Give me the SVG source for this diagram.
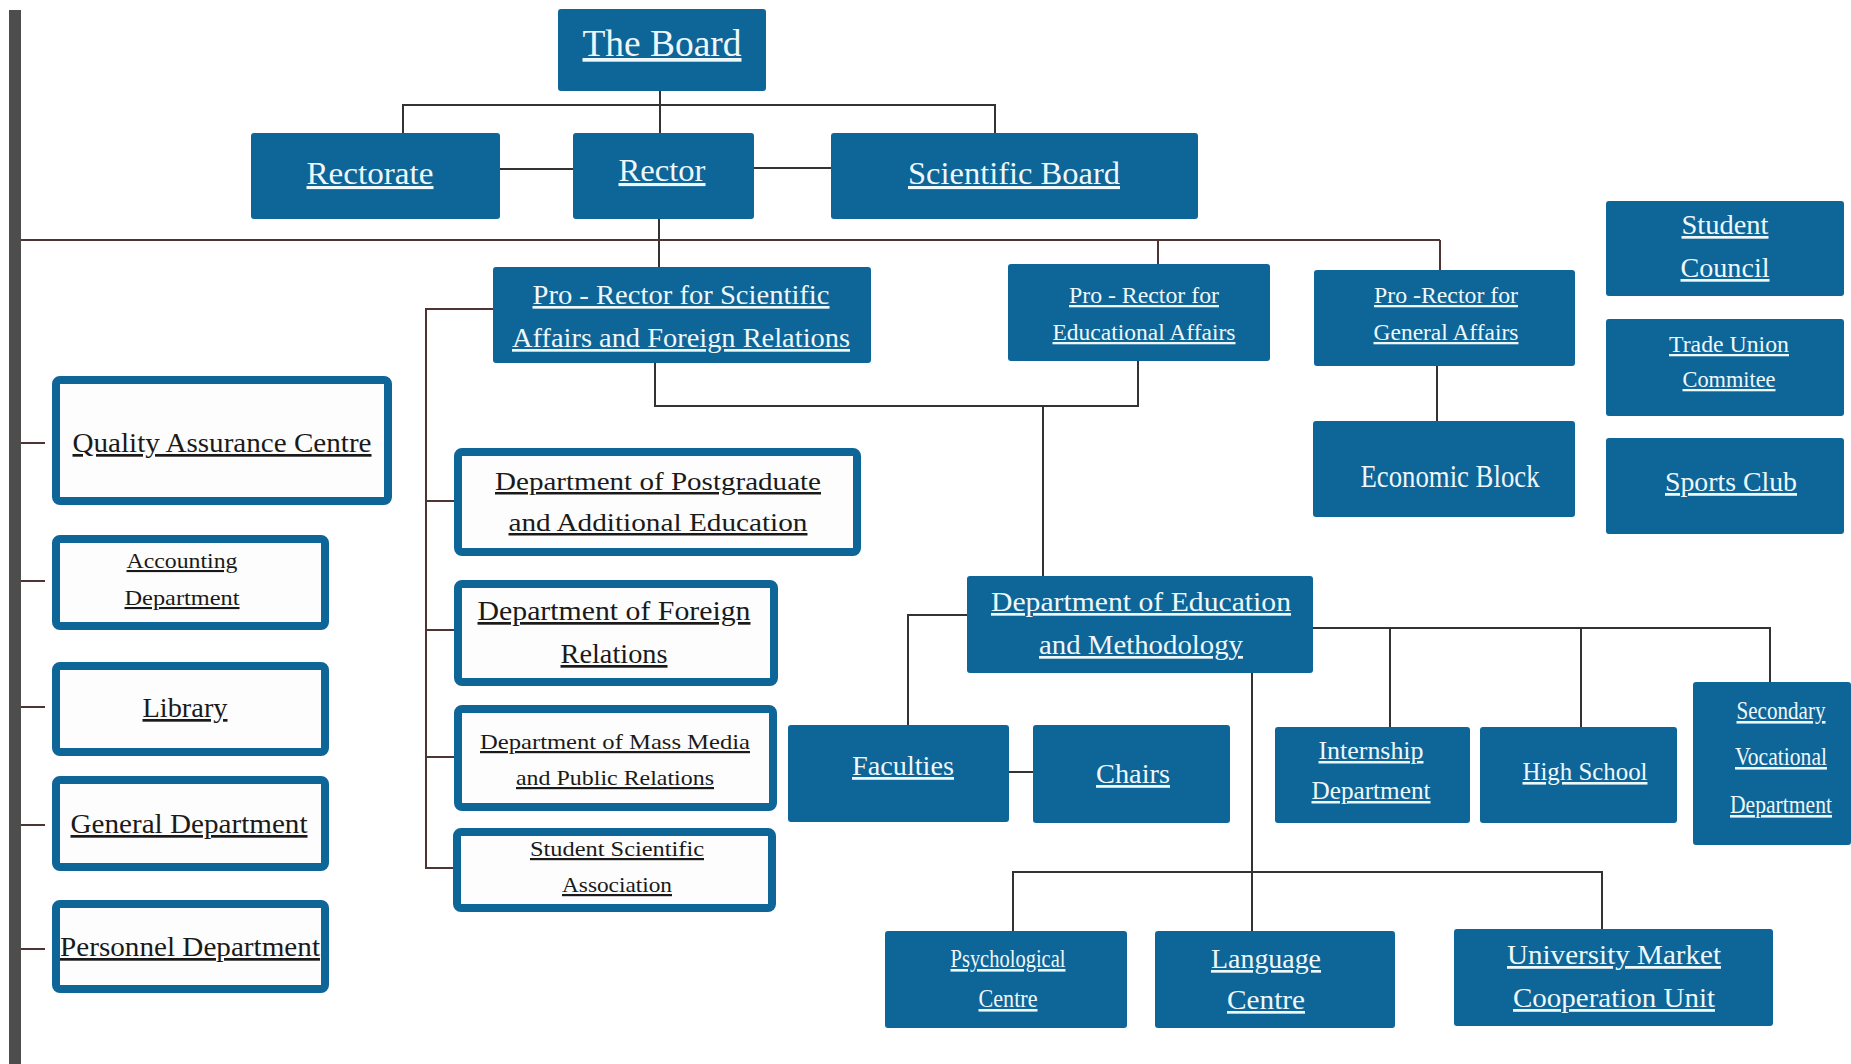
<svg xmlns="http://www.w3.org/2000/svg" width="1851" height="1064" viewBox="0 0 1851 1064">
<style>
.b{fill:#0e6598;}
.w{fill:#fdfdfd;stroke:#0e6598;stroke-width:8;}
.t{font-family:"Liberation Serif","DejaVu Serif",serif;text-anchor:middle;fill:#eef8fb;text-decoration:underline;}
.d{font-family:"Liberation Serif","DejaVu Serif",serif;text-anchor:middle;fill:#1a1a1a;text-decoration:underline;}
.c{fill:none;stroke:#333333;stroke-width:2;}
.cr{fill:none;stroke:#4e3434;stroke-width:2;}
</style>
<rect x="9" y="10" width="12" height="1054" fill="#4d4d4d"/>
<g id="connectors">
<path class="c" d="M660 91V133M403 133V105H995V133M500 169H573M754 168H831M659 219V267"/>
<path class="cr" d="M21 240H1440M1158 240V264M1440 240V270"/>
<path class="cr" d="M493 309H426V868H453M426 501H454M426 630H454M426 757H454"/>
<path class="cr" d="M21 443H45M21 581H45M21 707H45M21 825H45M21 949H45"/>
<path class="c" d="M655 363V406H1138V361M1043 406V576M1437 366V421"/>
<path class="c" d="M967 615H908V725M1009 772H1033M1313 628H1770V683M1390 628V727M1581 628V727"/>
<path class="c" d="M1252 673V931M1013 931V872H1602V929"/>
</g>
<g id="the-board"><rect class="b" x="558" y="9" width="208" height="82" rx="3"/><text class="t" x="662" y="56" font-size="37" textLength="159" lengthAdjust="spacingAndGlyphs">The Board</text></g>
<g id="rectorate"><rect class="b" x="251" y="133" width="249" height="86" rx="3"/><text class="t" x="370" y="184" font-size="31" textLength="127" lengthAdjust="spacingAndGlyphs">Rectorate</text></g>
<g id="rector"><rect class="b" x="573" y="133" width="181" height="86" rx="3"/><text class="t" x="662" y="181" font-size="31" textLength="87" lengthAdjust="spacingAndGlyphs">Rector</text></g>
<g id="scientific-board"><rect class="b" x="831" y="133" width="367" height="86" rx="3"/><text class="t" x="1014" y="184" font-size="31" textLength="212" lengthAdjust="spacingAndGlyphs">Scientific Board</text></g>
<g id="pro-rector-scientific"><rect class="b" x="493" y="267" width="378" height="96" rx="3"/><text class="t" x="681" y="304" font-size="27" textLength="297" lengthAdjust="spacingAndGlyphs">Pro - Rector for Scientific</text><text class="t" x="681" y="347" font-size="27" textLength="338" lengthAdjust="spacingAndGlyphs">Affairs and Foreign Relations</text></g>
<g id="pro-rector-educational"><rect class="b" x="1008" y="264" width="262" height="97" rx="3"/><text class="t" x="1144" y="303" font-size="23" textLength="150" lengthAdjust="spacingAndGlyphs">Pro - Rector for</text><text class="t" x="1144" y="340" font-size="23" textLength="183" lengthAdjust="spacingAndGlyphs">Educational Affairs</text></g>
<g id="pro-rector-general"><rect class="b" x="1314" y="270" width="261" height="96" rx="3"/><text class="t" x="1446" y="303" font-size="23" textLength="144" lengthAdjust="spacingAndGlyphs">Pro -Rector for</text><text class="t" x="1446" y="340" font-size="23" textLength="145" lengthAdjust="spacingAndGlyphs">General Affairs</text></g>
<g id="economic-block"><rect class="b" x="1313" y="421" width="262" height="96" rx="3"/><text class="t" x="1450" y="487" font-size="32" textLength="179" lengthAdjust="spacingAndGlyphs" style="text-decoration:none">Economic Block</text></g>
<g id="student-council"><rect class="b" x="1606" y="201" width="238" height="95" rx="3"/><text class="t" x="1725" y="234" font-size="27" textLength="87" lengthAdjust="spacingAndGlyphs">Student</text><text class="t" x="1725" y="277" font-size="27" textLength="89" lengthAdjust="spacingAndGlyphs">Council</text></g>
<g id="trade-union"><rect class="b" x="1606" y="319" width="238" height="97" rx="3"/><text class="t" x="1729" y="352" font-size="23" textLength="120" lengthAdjust="spacingAndGlyphs">Trade Union </text><text class="t" x="1729" y="387" font-size="23" textLength="93" lengthAdjust="spacingAndGlyphs">Commitee</text></g>
<g id="sports-club"><rect class="b" x="1606" y="438" width="238" height="96" rx="3"/><text class="t" x="1731" y="491" font-size="28" textLength="132" lengthAdjust="spacingAndGlyphs">Sports Club</text></g>
<g id="quality-assurance"><rect class="w" x="56" y="380" width="332" height="121" rx="4"/><text class="d" x="222" y="452" font-size="27" textLength="299" lengthAdjust="spacingAndGlyphs">Quality Assurance Centre</text></g>
<g id="accounting"><rect class="w" x="56" y="539" width="269" height="87" rx="4"/><text class="d" x="182" y="568" font-size="21" textLength="111" lengthAdjust="spacingAndGlyphs">Accounting </text><text class="d" x="182" y="605" font-size="21" textLength="115" lengthAdjust="spacingAndGlyphs">Department</text></g>
<g id="library"><rect class="w" x="56" y="666" width="269" height="86" rx="4"/><text class="d" x="185" y="717" font-size="27" textLength="85" lengthAdjust="spacingAndGlyphs">Library</text></g>
<g id="general-department"><rect class="w" x="56" y="780" width="269" height="87" rx="4"/><text class="d" x="189" y="833" font-size="27" textLength="237" lengthAdjust="spacingAndGlyphs">General Department</text></g>
<g id="personnel-department"><rect class="w" x="56" y="904" width="269" height="85" rx="4"/><text class="d" x="190" y="956" font-size="27" textLength="260" lengthAdjust="spacingAndGlyphs">Personnel Department</text></g>
<g id="postgraduate"><rect class="w" x="458" y="452" width="399" height="100" rx="4"/><text class="d" x="658" y="490" font-size="25" textLength="326" lengthAdjust="spacingAndGlyphs">Department of Postgraduate</text><text class="d" x="658" y="531" font-size="25" textLength="299" lengthAdjust="spacingAndGlyphs">and Additional Education</text></g>
<g id="foreign-relations"><rect class="w" x="458" y="584" width="316" height="98" rx="4"/><text class="d" x="614" y="620" font-size="27" textLength="273" lengthAdjust="spacingAndGlyphs">Department of Foreign </text><text class="d" x="614" y="663" font-size="27" textLength="107" lengthAdjust="spacingAndGlyphs">Relations</text></g>
<g id="mass-media"><rect class="w" x="458" y="709" width="315" height="98" rx="4"/><text class="d" x="615" y="749" font-size="22" textLength="270" lengthAdjust="spacingAndGlyphs">Department of  Mass Media </text><text class="d" x="615" y="785" font-size="22" textLength="198" lengthAdjust="spacingAndGlyphs">and Public Relations</text></g>
<g id="student-scientific"><rect class="w" x="457" y="832" width="315" height="76" rx="4"/><text class="d" x="617" y="856" font-size="22" textLength="174" lengthAdjust="spacingAndGlyphs">Student Scientific </text><text class="d" x="617" y="892" font-size="22" textLength="110" lengthAdjust="spacingAndGlyphs">Association</text></g>
<g id="dept-education"><rect class="b" x="967" y="576" width="346" height="97" rx="3"/><text class="t" x="1141" y="611" font-size="27" textLength="300" lengthAdjust="spacingAndGlyphs">Department of Education </text><text class="t" x="1141" y="654" font-size="27" textLength="204" lengthAdjust="spacingAndGlyphs">and Methodology</text></g>
<g id="faculties"><rect class="b" x="788" y="725" width="221" height="97" rx="3"/><text class="t" x="903" y="775" font-size="28" textLength="102" lengthAdjust="spacingAndGlyphs">Faculties </text></g>
<g id="chairs"><rect class="b" x="1033" y="725" width="197" height="98" rx="3"/><text class="t" x="1133" y="783" font-size="28" textLength="74" lengthAdjust="spacingAndGlyphs">Chairs</text></g>
<g id="internship"><rect class="b" x="1275" y="727" width="195" height="96" rx="3"/><text class="t" x="1371" y="759" font-size="25" textLength="105" lengthAdjust="spacingAndGlyphs">Internship</text><text class="t" x="1371" y="799" font-size="25" textLength="119" lengthAdjust="spacingAndGlyphs">Department</text></g>
<g id="high-school"><rect class="b" x="1480" y="727" width="197" height="96" rx="3"/><text class="t" x="1585" y="780" font-size="26" textLength="125" lengthAdjust="spacingAndGlyphs">High School</text></g>
<g id="secondary-vocational"><rect class="b" x="1693" y="682" width="158" height="163" rx="3"/><text class="t" x="1781" y="719" font-size="26" textLength="89" lengthAdjust="spacingAndGlyphs">Secondary</text><text class="t" x="1781" y="765" font-size="26" textLength="92" lengthAdjust="spacingAndGlyphs">Vocational</text><text class="t" x="1781" y="813" font-size="26" textLength="102" lengthAdjust="spacingAndGlyphs">Department</text></g>
<g id="psychological"><rect class="b" x="885" y="931" width="242" height="97" rx="3"/><text class="t" x="1008" y="967" font-size="26" textLength="115" lengthAdjust="spacingAndGlyphs">Psychological</text><text class="t" x="1008" y="1007" font-size="26" textLength="59" lengthAdjust="spacingAndGlyphs">Centre</text></g>
<g id="language"><rect class="b" x="1155" y="931" width="240" height="97" rx="3"/><text class="t" x="1266" y="968" font-size="27" textLength="110" lengthAdjust="spacingAndGlyphs">Language</text><text class="t" x="1266" y="1009" font-size="27" textLength="78" lengthAdjust="spacingAndGlyphs">Centre</text></g>
<g id="university-market"><rect class="b" x="1454" y="929" width="319" height="97" rx="3"/><text class="t" x="1614" y="964" font-size="28" textLength="214" lengthAdjust="spacingAndGlyphs">University Market</text><text class="t" x="1614" y="1007" font-size="28" textLength="202" lengthAdjust="spacingAndGlyphs">Cooperation Unit</text></g>
</svg>
